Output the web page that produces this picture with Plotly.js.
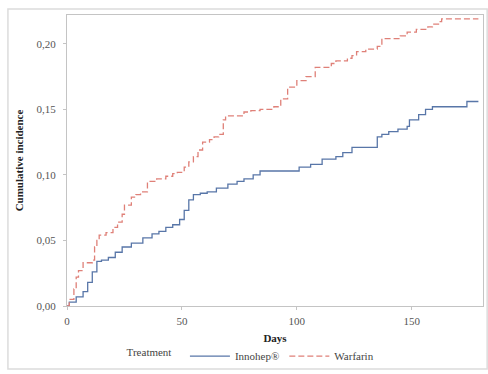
<!DOCTYPE html>
<html>
<head>
<meta charset="utf-8">
<script src="https://cdn.plot.ly/plotly-3.0.1.min.js"></script>
<style>html,body{margin:0;padding:0;background:#fff;}#chart{width:488px;height:374px;}</style>
</head>
<body>
<div id="chart"></div>
<script>
const innohepDays = [0, 1, 4, 7, 9, 11, 13, 15, 18, 21, 24, 28, 33, 37, 40, 43, 46, 49, 51, 53, 55, 58, 61, 65, 70, 74, 77, 81, 84, 101, 106, 111, 117, 120, 124, 135, 137, 140, 144, 148, 149, 153, 156, 159, 174, 179];
const innohepInc = [0, 0.003, 0.007, 0.011, 0.018, 0.026, 0.034, 0.035, 0.037, 0.041, 0.045, 0.048, 0.052, 0.055, 0.057, 0.060, 0.062, 0.066, 0.073, 0.081, 0.085, 0.086, 0.087, 0.090, 0.093, 0.095, 0.097, 0.100, 0.103, 0.106, 0.108, 0.112, 0.114, 0.117, 0.121, 0.129, 0.131, 0.133, 0.135, 0.137, 0.142, 0.146, 0.150, 0.152, 0.156, 0.156];
const warfarinDays = [0, 1, 3, 4, 5, 7, 11, 12, 13, 14, 17, 20, 22, 24, 25, 28, 30, 32, 35, 39, 43, 46, 48, 51, 53, 55, 57, 59, 62, 64, 66, 68, 69, 77, 80, 84, 90, 93, 96, 100, 104, 108, 115, 117, 122, 124, 126, 130, 135, 137, 145, 148, 152, 157, 159, 162, 163, 179];
const warfarinInc = [0, 0.005, 0.013, 0.022, 0.027, 0.033, 0.035, 0.045, 0.050, 0.054, 0.056, 0.060, 0.064, 0.070, 0.077, 0.083, 0.085, 0.087, 0.095, 0.097, 0.099, 0.101, 0.102, 0.106, 0.110, 0.114, 0.119, 0.125, 0.127, 0.129, 0.131, 0.142, 0.145, 0.148, 0.149, 0.150, 0.152, 0.158, 0.167, 0.172, 0.175, 0.182, 0.185, 0.187, 0.189, 0.191, 0.194, 0.196, 0.198, 0.204, 0.206, 0.209, 0.211, 0.213, 0.215, 0.217, 0.219, 0.219];
const seriesNames = ["Innohep®", "Warfarin"];
const yTicks = [0, 0.05, 0.10, 0.15, 0.20];
const xTicks = [0, 50, 100, 150];

const serif = "'Liberation Serif', 'Times New Roman', serif";
const traces = [
  {x: innohepDays, y: innohepInc, name: seriesNames[0], mode: "lines", line: {shape: "hv", color: "#5876a8", width: 1.3}},
  {x: warfarinDays, y: warfarinInc, name: seriesNames[1], mode: "lines", line: {shape: "hv", color: "#df8078", width: 1.3, dash: "6px,3px"}}
];
const axisCommon = {
  showgrid: false, zeroline: false, showline: true, mirror: true,
  linecolor: "#c4c4c4", linewidth: 1, ticks: "outside", ticklen: 3, tickcolor: "#c4c4c4",
  tickfont: {family: serif, size: 11, color: "#555"}
};
const layout = {
  width: 488, height: 374,
  margin: {l: 67, r: 5, t: 15, b: 68, autoexpand: false},
  paper_bgcolor: "#fff", plot_bgcolor: "#fff",
  separators: ",.",
  showlegend: true,
  xaxis: Object.assign({}, axisCommon, {
    range: [0, 181], tickvals: xTicks, ticklabelstandoff: 2,
    title: {text: "<b>Days</b>", font: {family: serif, size: 11, color: "#222"}, standoff: 8}
  }),
  yaxis: Object.assign({}, axisCommon, {
    range: [0, 0.222], tickvals: yTicks, tickformat: ".2f", ticklabelstandoff: 5,
    title: {text: "<b>Cumulative incidence</b>", font: {family: serif, size: 11, color: "#222"}, standoff: 10}
  }),
  legend: {
    orientation: "h", x: 0.445, xanchor: "center", y: -0.172, yanchor: "middle",
    bgcolor: "rgba(0,0,0,0)",
    font: {family: serif, size: 11, color: "#444"},
    title: {text: "Treatment  ", side: "left", font: {family: serif, size: 11, color: "#444"}},
    itemwidth: 40, tracegroupgap: 0
  },
  shapes: [{
    type: "rect", xref: "paper", yref: "paper",
    x0: -0.142, x1: 1.01, y0: -0.2165, y1: 1.0206,
    line: {color: "#dcdcdc", width: 1.5}, fillcolor: "rgba(0,0,0,0)", layer: "below"
  }]
};
Plotly.newPlot("chart", traces, layout, {staticPlot: true, displayModeBar: false});
</script>
</body>
</html>
